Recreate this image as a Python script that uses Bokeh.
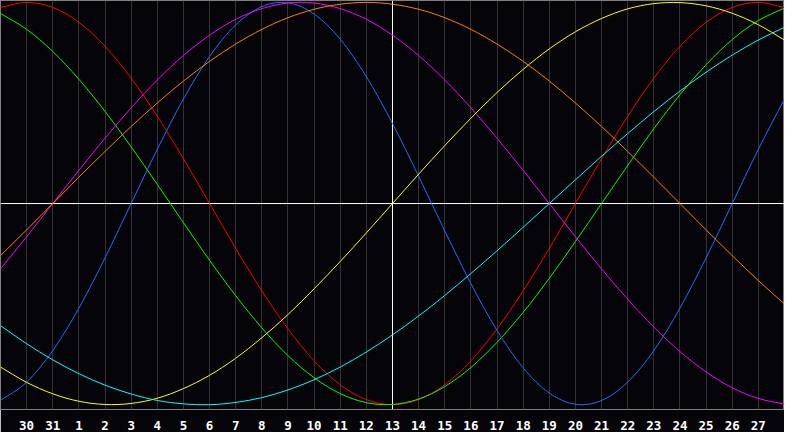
from bokeh.plotting import figure
from bokeh.models import FixedTicker, Span, Range1d
from bokeh.embed import file_html
from bokeh.resources import INLINE

# Day labels along the x axis (one column per day)
days = [29, 30, 31, 1, 2, 3, 4, 5, 6, 7, 8, 9, 10, 11, 12, 13,
        14, 15, 16, 17, 18, 19, 20, 21, 22, 23, 24, 25, 26, 27, 28]
today = 13

# Cycle values per day
cycle_23 = [-0.979, -0.888, -0.731, -0.520, -0.270, 0.000, 0.270, 0.520, 0.731, 0.888,
            0.979, 0.998, 0.942, 0.817, 0.631, 0.398, 0.136, -0.136, -0.398, -0.631,
            -0.817, -0.942, -0.998, -0.979, -0.888, -0.731, -0.520, -0.270, 0.000,
            0.270, 0.520]
cycle_28 = [0.975, 1.000, 0.975, 0.901, 0.782, 0.623, 0.434, 0.223, 0.000, -0.223,
            -0.434, -0.623, -0.782, -0.901, -0.975, -1.000, -0.975, -0.901, -0.782,
            -0.623, -0.434, -0.223, 0.000, 0.223, 0.434, 0.623, 0.782, 0.901, 0.975,
            1.000, 0.975]
cycle_33 = [0.945, 0.866, 0.756, 0.618, 0.458, 0.282, 0.095, -0.095, -0.282, -0.458,
            -0.618, -0.756, -0.866, -0.945, -0.990, -0.999, -0.972, -0.910, -0.815,
            -0.690, -0.541, -0.372, -0.189, 0.000, 0.189, 0.372, 0.541, 0.690, 0.815,
            0.910, 0.972]
cycle_38 = [-0.325, -0.165, 0.000, 0.165, 0.325, 0.476, 0.614, 0.736, 0.837, 0.916,
            0.969, 0.997, 0.997, 0.969, 0.916, 0.837, 0.736, 0.614, 0.476, 0.325,
            0.165, 0.000, -0.165, -0.325, -0.476, -0.614, -0.736, -0.837, -0.916,
            -0.969, -0.997]
cycle_43 = [-0.813, -0.889, -0.946, -0.983, -0.999, -0.994, -0.968, -0.920, -0.854,
            -0.769, -0.667, -0.552, -0.424, -0.288, -0.146, 0.000, 0.146, 0.288, 0.424,
            0.552, 0.667, 0.769, 0.854, 0.920, 0.968, 0.994, 0.999, 0.983, 0.946,
            0.889, 0.813]
cycle_48 = [-0.259, -0.131, 0.000, 0.131, 0.259, 0.383, 0.500, 0.609, 0.707, 0.793,
            0.866, 0.924, 0.966, 0.991, 1.000, 0.991, 0.966, 0.924, 0.866, 0.793,
            0.707, 0.609, 0.500, 0.383, 0.259, 0.131, 0.000, -0.131, -0.259, -0.383,
            -0.500]
cycle_53 = [-0.607, -0.697, -0.777, -0.846, -0.903, -0.947, -0.979, -0.996, -1.000,
            -0.989, -0.965, -0.927, -0.876, -0.813, -0.738, -0.653, -0.559, -0.457,
            -0.348, -0.235, -0.118, 0.000, 0.118, 0.235, 0.348, 0.457, 0.559, 0.653,
            0.738, 0.813, 0.876]

x = list(range(len(days)))
today_idx = days.index(today)

BG = "#050409"
p = figure(width=784, height=432, output_backend="svg", toolbar_location=None,
           x_range=Range1d(0, len(days) - 1), y_range=Range1d(-1.024, 1.0095),
           min_border_left=0, min_border_right=0, min_border_top=0,
           min_border_bottom=19)
p.background_fill_color = BG
p.border_fill_color = BG
p.outline_line_color = "#808080"
p.outline_line_width = 1

p.yaxis.visible = False
p.ygrid.visible = False

ax = p.xaxis[0]
ax.ticker = FixedTicker(ticks=x[1:-1])
ax.major_label_overrides = {i: str(days[i]) for i in x[1:-1]}
ax.axis_line_color = None
ax.major_tick_line_color = None
ax.minor_tick_line_color = None
ax.major_label_text_color = "white"
ax.major_label_text_font = "DejaVu Sans Mono"
ax.major_label_text_font_style = "bold"
ax.major_label_text_font_size = "12.5px"
ax.major_label_standoff = 5

p.xgrid.ticker = FixedTicker(ticks=x)
p.xgrid.grid_line_color = "#333333"
p.xgrid.grid_line_width = 1

p.add_layout(Span(location=0, dimension="width", line_color="white",
                  line_width=1, level="underlay"))
p.add_layout(Span(location=today_idx, dimension="height", line_color="white",
                  line_width=1, level="underlay"))


def smooth_segments(xs, ys):
    """Catmull-Rom through the daily points, expressed as cubic Bezier segments."""
    n = len(xs)
    px = [2 * xs[0] - xs[1]] + list(xs) + [2 * xs[-1] - xs[-2]]
    py = [2 * ys[0] - ys[1]] + list(ys) + [2 * ys[-1] - ys[-2]]
    seg = dict(x0=[], y0=[], x1=[], y1=[], cx0=[], cy0=[], cx1=[], cy1=[])
    for i in range(1, n):
        seg["x0"].append(px[i]); seg["y0"].append(py[i])
        seg["x1"].append(px[i + 1]); seg["y1"].append(py[i + 1])
        seg["cx0"].append(px[i] + (px[i + 1] - px[i - 1]) / 6)
        seg["cy0"].append(py[i] + (py[i + 1] - py[i - 1]) / 6)
        seg["cx1"].append(px[i + 1] - (px[i + 2] - px[i]) / 6)
        seg["cy1"].append(py[i + 1] - (py[i + 2] - py[i]) / 6)
    return seg


series = [
    (cycle_28, "#ff0000"),
    (cycle_33, "#00ff00"),
    (cycle_23, "#1f6fff"),
    (cycle_38, "#ff00ff"),
    (cycle_43, "#ffff00"),
    (cycle_48, "#ff8000"),
    (cycle_53, "#00ffff"),
]
for vals, col in series:
    s = smooth_segments(x, vals)
    p.bezier(x0=s["x0"], y0=s["y0"], x1=s["x1"], y1=s["y1"],
             cx0=s["cx0"], cy0=s["cy0"], cx1=s["cx1"], cy1=s["cy1"],
             line_color=col, line_width=1)

open("out.html", "w").write(file_html(p, INLINE))
